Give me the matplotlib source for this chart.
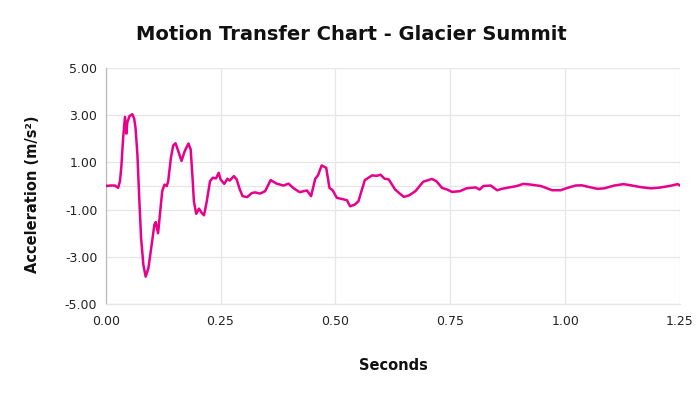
import matplotlib
matplotlib.use("Agg")
import matplotlib.pyplot as plt

seconds = [0.000, 0.010, 0.020, 0.027, 0.031, 0.034, 0.038, 0.042, 0.045, 0.047,
           0.052, 0.058, 0.062, 0.065, 0.069, 0.073, 0.077, 0.082, 0.087, 0.093,
           0.100, 0.106, 0.109, 0.112, 0.114, 0.118, 0.123, 0.128, 0.133, 0.136,
           0.142, 0.147, 0.152, 0.158, 0.165, 0.172, 0.180, 0.185, 0.189, 0.192,
           0.197, 0.203, 0.209, 0.214, 0.220, 0.227, 0.233, 0.240, 0.246, 0.250,
           0.258, 0.265, 0.270, 0.279, 0.285, 0.292, 0.298, 0.308, 0.318, 0.325,
           0.336, 0.347, 0.359, 0.372, 0.387, 0.398, 0.408, 0.422, 0.438, 0.447,
           0.456, 0.462, 0.470, 0.480, 0.487, 0.494, 0.503, 0.514, 0.525, 0.532,
           0.542, 0.550, 0.564, 0.580, 0.590, 0.598, 0.607, 0.616, 0.630, 0.640,
           0.649, 0.660, 0.674, 0.691, 0.710, 0.720, 0.732, 0.743, 0.754, 0.771,
           0.785, 0.794, 0.805, 0.814, 0.822, 0.838, 0.852, 0.862, 0.881, 0.895,
           0.909, 0.925, 0.947, 0.958, 0.972, 0.990, 1.005, 1.023, 1.036, 1.049,
           1.070, 1.085, 1.107, 1.127, 1.143, 1.165, 1.187, 1.205, 1.227, 1.245,
           1.250]
acceleration = [0.00, 0.02, 0.02, -0.08, 0.20, 0.80, 2.05, 2.93, 2.22, 2.69,
                2.97, 3.04, 2.85, 2.45, 1.34, -0.50, -2.20, -3.34, -3.84, -3.48,
                -2.49, -1.64, -1.53, -1.80, -2.00, -1.21, -0.22, 0.06, 0.00, 0.20,
                1.20, 1.72, 1.81, 1.48, 1.06, 1.48, 1.80, 1.55, 0.35, -0.65,
                -1.18, -0.96, -1.14, -1.24, -0.65, 0.20, 0.35, 0.32, 0.56, 0.28,
                0.09, 0.31, 0.23, 0.42, 0.28, -0.15, -0.43, -0.47, -0.30, -0.27,
                -0.32, -0.22, 0.25, 0.10, 0.02, 0.10, -0.08, -0.26, -0.19, -0.43,
                0.30, 0.45, 0.87, 0.77, -0.08, -0.18, -0.50, -0.55, -0.60, -0.86,
                -0.79, -0.65, 0.25, 0.45, 0.43, 0.48, 0.31, 0.28, -0.15, -0.32,
                -0.46, -0.40, -0.22, 0.18, 0.30, 0.20, -0.08, -0.15, -0.25, -0.22,
                -0.10, -0.08, -0.06, -0.15, 0.00, 0.02, -0.18, -0.12, -0.05, 0.00,
                0.09, 0.06, 0.00, -0.08, -0.18, -0.18, -0.08, 0.02, 0.03, -0.03,
                -0.12, -0.10, 0.02, 0.08, 0.03, -0.05, -0.10, -0.07, 0.00, 0.08,
                0.02]

x_ticks = [0.00, 0.25, 0.50, 0.75, 1.00, 1.25]
y_ticks = [-5.00, -3.00, -1.00, 1.00, 3.00, 5.00]

title = "Motion Transfer Chart - Glacier Summit"
x_label = "Seconds"
y_label = "Acceleration (m/s²)"

W, H = 700, 394
fig = plt.figure(figsize=(7.0, 3.94), dpi=100)
ax = fig.add_axes([105.7 / W, 1 - 304 / H, (680 - 105.7) / W, (304 - 68) / H])

ax.plot(seconds, acceleration, color="#E8008A", linewidth=1.8,
        solid_joinstyle="round", solid_capstyle="round", zorder=3)

ax.set_xlim(0, 1.25)
ax.set_ylim(-5, 5)
ax.set_xticks(x_ticks)
ax.set_yticks(y_ticks)
ax.set_xticklabels([f"{v:.2f}" for v in x_ticks])
ax.set_yticklabels([f"{v:.2f}" for v in y_ticks])
ax.tick_params(axis="both", length=0, labelsize=9, colors="#222222", pad=6)
ax.tick_params(axis="x", pad=8)

ax.grid(True, color="#E6E6E6", linewidth=0.9, zorder=0)
ax.axhline(0, color="#E6E6E6", linewidth=0.9, zorder=1)
for s in ["top", "right"]:
    ax.spines[s].set_visible(False)
ax.spines["bottom"].set_color("#E6E6E6")
ax.spines["bottom"].set_linewidth(0.9)
ax.spines["left"].set_color("#BBBBBB")
ax.spines["left"].set_linewidth(0.9)

fig.text(351 / W, 1 - 35 / H, title, ha="center", va="center",
         fontsize=14, fontweight="bold", color="#111111")
fig.text(393 / W, 1 - 365 / H, x_label, ha="center", va="center",
         fontsize=10.5, fontweight="bold", color="#111111")
fig.text(33 / W, 1 - 194 / H, y_label, ha="center", va="center", rotation=90,
         fontsize=10.5, fontweight="bold", color="#111111")

fig.savefig("out.png", dpi=100, facecolor="white")
